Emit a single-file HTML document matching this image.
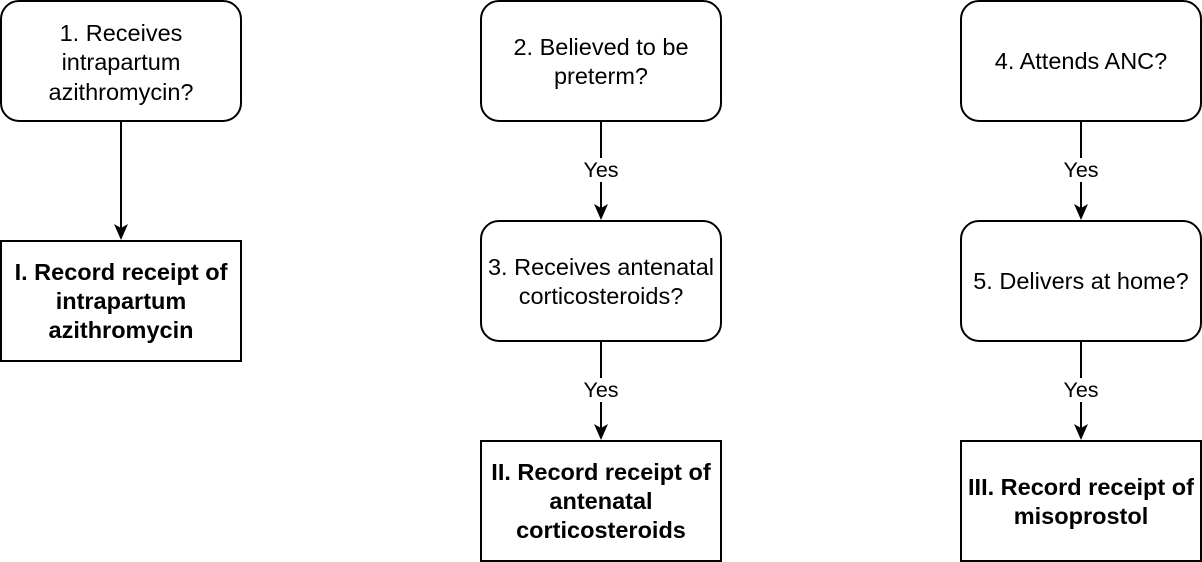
<!DOCTYPE html>
<html><head><meta charset="utf-8"><style>
html,body{margin:0;padding:0;background:#fff;}
svg{display:block;}
text{font-family:"Liberation Sans",Arial,sans-serif;font-size:23.5px;fill:#000;}
.b{font-weight:bold;}
.y{font-size:21.5px;}
</style></head><body>
<svg width="1202" height="562" viewBox="0 0 1202 562" xmlns="http://www.w3.org/2000/svg">
<g fill="#fff" stroke="#000" stroke-width="2">
<rect x="1" y="1" width="240" height="120" rx="18"/>
<rect x="1" y="241" width="240" height="120"/>
<rect x="481" y="1" width="240" height="120" rx="18"/>
<rect x="481" y="221" width="240" height="120" rx="18"/>
<rect x="481" y="441" width="240" height="120"/>
<rect x="961" y="1" width="240" height="120" rx="18"/>
<rect x="961" y="221" width="240" height="120" rx="18"/>
<rect x="961" y="441" width="240" height="120"/>
</g>
<g stroke="#000" stroke-width="2" fill="none">
<path d="M121,121 L121,232"/>
<path d="M601,121 L601,158"/><path d="M601,182 L601,212"/>
<path d="M601,341 L601,378"/><path d="M601,402 L601,432"/>
<path d="M1081,121 L1081,158"/><path d="M1081,182 L1081,212"/>
<path d="M1081,341 L1081,378"/><path d="M1081,402 L1081,432"/>
</g>
<g fill="#000">
<path d="M121,240 L114,224 L121,228 L128,224 Z"/>
<path d="M601,220 L594,204 L601,208 L608,204 Z"/>
<path d="M601,440 L594,424 L601,428 L608,424 Z"/>
<path d="M1081,220 L1074,204 L1081,208 L1088,204 Z"/>
<path d="M1081,440 L1074,424 L1081,428 L1088,424 Z"/>
</g>
<g text-anchor="middle">
<text x="121" y="41">1. Receives</text>
<text x="121" y="70">intrapartum</text>
<text x="121" y="100">azithromycin?</text>
<text class="b" x="121" y="280">I. Record receipt of</text>
<text class="b" x="121" y="309">intrapartum</text>
<text class="b" x="121" y="338">azithromycin</text>
<text x="601" y="55">2. Believed to be</text>
<text x="601" y="84">preterm?</text>
<text class="y" x="601" y="177">Yes</text>
<text x="601" y="275">3. Receives antenatal</text>
<text x="601" y="304">corticosteroids?</text>
<text class="y" x="601" y="397">Yes</text>
<text class="b" x="601" y="480">II. Record receipt of</text>
<text class="b" x="601" y="509">antenatal</text>
<text class="b" x="601" y="538">corticosteroids</text>
<text x="1081" y="69">4. Attends ANC?</text>
<text class="y" x="1081" y="177">Yes</text>
<text x="1081" y="289">5. Delivers at home?</text>
<text class="y" x="1081" y="397">Yes</text>
<text class="b" x="1081" y="495">III. Record receipt of</text>
<text class="b" x="1081" y="524">misoprostol</text>
</g>
</svg>
</body></html>
